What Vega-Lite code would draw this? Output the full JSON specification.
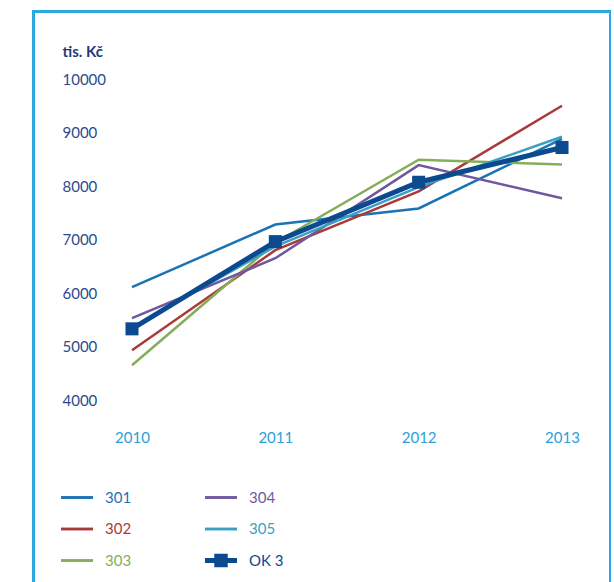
{
  "$schema": "https://vega.github.io/schema/vega-lite/v6.json",
  "autosize": "none",
  "padding": {"left": 33.5, "top": 11.5, "right": 0, "bottom": 0},
  "width": 577,
  "height": 580,
  "background": "white",
  "config": {
    "view": {"stroke": "#2aa8e2", "strokeWidth": 3},
    "font": "Lato"
  },
  "data": {
    "values": [
      {"year": 2010, "s": "301", "v": 6110},
      {"year": 2011, "s": "301", "v": 7280},
      {"year": 2012, "s": "301", "v": 7580},
      {"year": 2013, "s": "301", "v": 8880},
      {"year": 2010, "s": "302", "v": 4930},
      {"year": 2011, "s": "302", "v": 6800},
      {"year": 2012, "s": "302", "v": 7900},
      {"year": 2013, "s": "302", "v": 9500},
      {"year": 2010, "s": "303", "v": 4650},
      {"year": 2011, "s": "303", "v": 6940},
      {"year": 2012, "s": "303", "v": 8490},
      {"year": 2013, "s": "303", "v": 8400},
      {"year": 2010, "s": "304", "v": 5530},
      {"year": 2011, "s": "304", "v": 6650},
      {"year": 2012, "s": "304", "v": 8390},
      {"year": 2013, "s": "304", "v": 7770},
      {"year": 2010, "s": "305", "v": 5360},
      {"year": 2011, "s": "305", "v": 6870},
      {"year": 2012, "s": "305", "v": 7980},
      {"year": 2013, "s": "305", "v": 8920},
      {"year": 2010, "s": "OK 3", "v": 5330},
      {"year": 2011, "s": "OK 3", "v": 6960},
      {"year": 2012, "s": "OK 3", "v": 8070},
      {"year": 2013, "s": "OK 3", "v": 8720}
    ]
  },
  "encoding": {
    "x": {
      "field": "year", "type": "quantitative",
      "scale": {"domain": [2009.3128, 2013.3384], "nice": false, "zero": false},
      "axis": {
        "orient": "top", "offset": -425.5, "values": [2010, 2011, 2012, 2013], "format": "d",
        "title": null, "domain": false, "ticks": false, "tickSize": 0, "grid": false,
        "labelPadding": 0, "labelBaseline": "middle", "labelFontSize": 15, "labelColor": "#2ba0d9",
        "labelFont": "Lato", "labelFlush": false
      }
    },
    "y": {
      "field": "v", "type": "quantitative",
      "scale": {"domain": [420.6, 11261.7], "nice": false, "zero": false},
      "axis": {
        "offset": -28.5, "values": [4000, 5000, 6000, 7000, 8000, 9000, 10000], "format": "d",
        "title": "tis. Kč", "titleAngle": 0, "titleAlign": "left", "titleBaseline": "middle",
        "titleX": 0, "titleY": 40.2, "titleFontSize": 15, "titleFontWeight": "bold",
        "titleColor": "#1f3a7a", "titleFont": "Lato",
        "domain": false, "ticks": false, "tickSize": 0, "grid": false,
        "labelPadding": 0, "labelAlign": "left", "labelBaseline": "middle",
        "labelFontSize": 15, "labelColor": "#2b4a8c", "labelFont": "Lato", "labelFlush": false
      }
    }
  },
  "layer": [
    {
      "mark": {"type": "line", "strokeJoin": "miter"},
      "encoding": {
        "color": {
          "field": "s", "type": "nominal",
          "scale": {
            "domain": ["301", "302", "303", "304", "305", "OK 3"],
            "range": ["#1a73b5", "#a83b3a", "#86ad5a", "#6f58a0", "#3a9fc2", "#0b4a8f"]
          },
          "legend": {
            "title": null, "orient": "none", "legendX": 27.5, "legendY": 470,
            "columns": 2, "columnPadding": 73, "rowPadding": 7.5, "padding": 0,
            "labelFontSize": 15, "labelFont": "Lato", "labelOffset": 12,
            "symbolSize": 1024,
            "encode": {
              "symbols": {
                "update": {
                  "shape": {"signal": "datum.value === 'OK 3' ? 'M-1,-0.16H1V0.16H-1Z M-0.42,-0.42H0.42V0.42H-0.42Z' : 'M-1,-0.09H1V0.09H-1Z'"},
                  "fill": {"scale": "color", "field": "value"},
                  "fillOpacity": {"value": 1},
                  "stroke": {"value": "transparent"},
                  "strokeWidth": {"value": 0},
                  "opacity": {"value": 1}
                }
              },
              "labels": {
                "update": {
                  "fill": {"scale": "color", "field": "value"}
                }
              }
            }
          }
        },
        "strokeWidth": {"condition": {"test": "datum.s === 'OK 3'", "value": 5}, "value": 2.5},
        "order": {"field": "year"}
      }
    },
    {
      "transform": [{"filter": "datum.s === 'OK 3'"}],
      "mark": {"type": "point", "shape": "square", "filled": true, "size": 170, "color": "#0b4a8f", "opacity": 1}
    }
  ]
}
